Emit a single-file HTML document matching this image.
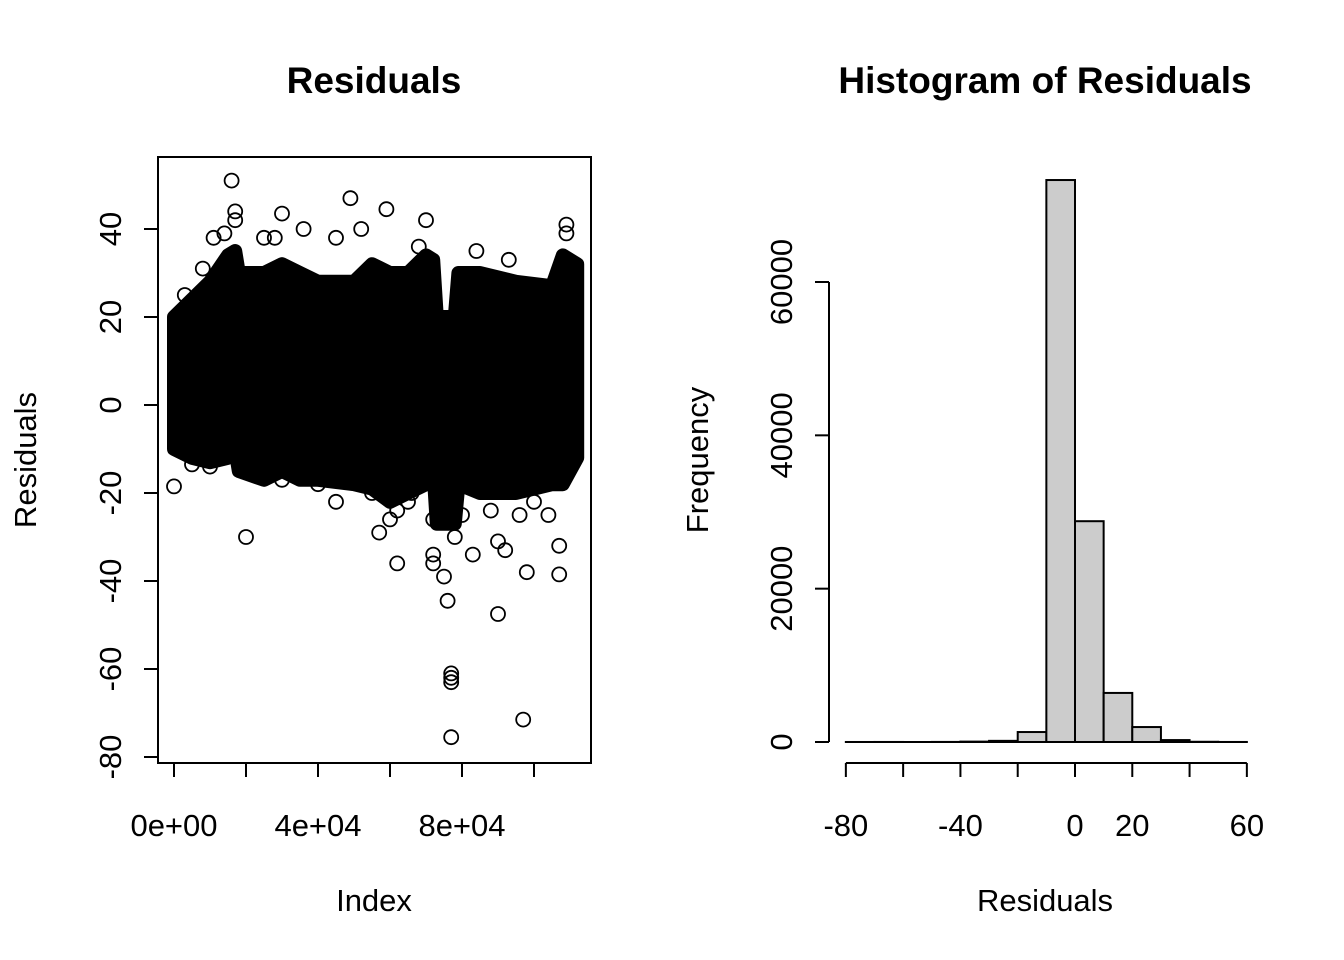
<!DOCTYPE html>
<html><head><meta charset="utf-8"><style>
html,body{margin:0;padding:0;background:#fff;}
svg{display:block;font-family:"Liberation Sans",Arial,sans-serif;}
</style></head><body>
<svg id="c" width="1344" height="960" viewBox="0 0 1344 960">
<text x="374" y="93" font-size="37" font-weight="bold" text-anchor="middle">Residuals</text>
<text x="1045" y="93" font-size="37" font-weight="bold" text-anchor="middle">Histogram of Residuals</text>
<g id="scatter"></g>
<g id="hist"></g>
<rect x="158" y="157" width="433" height="606" fill="none" stroke="#000" stroke-width="2"/>
<text x="374" y="911" font-size="31" text-anchor="middle">Index</text>
<text transform="translate(36,460) rotate(-90)" font-size="31" text-anchor="middle">Residuals</text>
<text x="1045" y="911" font-size="31" text-anchor="middle">Residuals</text>
<text transform="translate(708,460) rotate(-90)" font-size="31" text-anchor="middle">Frequency</text>
</svg>
<script>
// ---- scatter data (index in thousands, residual) ----
const bandIndex = [0,5,10,15,17,18,25,30,35,40,50,55,60,65,70,72,73,78,79,85,95,105,108,112];
const bandUpper = [20,24,28,34,35,30,30,32,30,28,28,32,30,30,34,33,20,20,30,30,28,27,34,32];
const bandLower = [-10,-12,-13,-12,-10,-15,-17,-15,-17,-17,-18,-19,-22,-20,-18,-14,-27,-27,-18,-20,-20,-18,-18,-12];
const outIndex = [16,17,17,49,59,70,30,109,109,20,0,62,57,72,72,76,77,77,77,77,90,97,98,107,107,75,83,90,92,72,60,62,45,96,104,10,5,30,80,66,36,45,52,28,84,93,25,68,11,14,3,8,22,40,55,65,88,100,110,78];
const outValue = [51,44,42,47,44.5,42,43.5,41,39,-30,-18.5,-36,-29,-36,-34,-44.5,-61,-62,-63,-75.5,-47.5,-71.5,-38,-32,-38.5,-39,-34,-31,-33,-26,-26,-24,-22,-25,-25,-14,-13.5,-17,-25,-20,40,38,40,38,35,33,38,36,38,39,25,31,-14,-18,-20,-22,-24,-22,-14,-30];
const sxTicks = [0,20,40,60,80,100];
const sxLabels = ["0e+00","","4e+04","","8e+04",""];
const syTicks = [-80,-60,-40,-20,0,20,40];
// ---- histogram data ----
const histBreaks = [-80,-70,-60,-50,-40,-30,-20,-10,0,10,20,30,40,50,60];
const histCounts = [2,5,0,10,50,150,1300,73300,28800,6400,1950,250,30,5];
const hxTicks = [-80,-60,-40,-20,0,20,40,60];
const hxLabels = ["-80","","-40","","0","20","","60"];
const hyTicks = [0,20000,40000,60000];

const NS="http://www.w3.org/2000/svg";
function mk(p,t,a){const e=document.createElementNS(NS,t);for(const k in a)e.setAttribute(k,a[k]);p.appendChild(e);return e;}
const sx=k=>174+3.6*k, sy=v=>405-4.4*v;
const S=document.getElementById('scatter');
let pts=[];
bandIndex.forEach((k,i)=>pts.push(sx(k)+','+sy(bandUpper[i])));
for(let i=bandIndex.length-1;i>=0;i--)pts.push(sx(bandIndex[i])+','+sy(bandLower[i]));
const band=mk(S,'polygon',{points:pts.join(' '),fill:'#000',stroke:'#000','stroke-width':14,'stroke-linejoin':'round'});


outIndex.forEach((k,i)=>{const c=mk(S,'circle',{cx:sx(k),cy:sy(outValue[i]),r:7,fill:'none',stroke:'#000','stroke-width':1.8});

});
mk(S,'line',{x1:sx(sxTicks[0]),x2:sx(sxTicks[sxTicks.length-1]),y1:763,y2:763,stroke:'#000','stroke-width':2});
sxTicks.forEach((t,i)=>{mk(S,'line',{x1:sx(t),x2:sx(t),y1:763,y2:777,stroke:'#000','stroke-width':2});
if(sxLabels[i]){const tx=mk(S,'text',{x:sx(t),y:836,'font-size':31,'text-anchor':'middle'});tx.textContent=sxLabels[i];

}});
mk(S,'line',{x1:158,x2:158,y1:sy(-80),y2:sy(40),stroke:'#000','stroke-width':2});
syTicks.forEach(t=>{mk(S,'line',{x1:144,x2:158,y1:sy(t),y2:sy(t),stroke:'#000','stroke-width':2});
const tx=mk(S,'text',{transform:`translate(121,${sy(t)}) rotate(-90)`,'font-size':31,'text-anchor':'middle'});tx.textContent=t;

});

const hx=v=>1075+v*(401/140), hy=c=>742-c*(460/60000);
const H=document.getElementById('hist');
mk(H,'line',{x1:hx(histBreaks[0]),x2:hx(histBreaks[histBreaks.length-1]),y1:742,y2:742,stroke:'#000','stroke-width':2});
histCounts.forEach((c,i)=>{const x0=hx(histBreaks[i]),x1=hx(histBreaks[i+1]);
const r=mk(H,'rect',{x:x0,y:hy(c),width:x1-x0,height:742-hy(c),fill:'#cccccc',stroke:'#000','stroke-width':2});

});
mk(H,'line',{x1:hx(-80),x2:hx(60),y1:763,y2:763,stroke:'#000','stroke-width':2});
hxTicks.forEach((t,i)=>{mk(H,'line',{x1:hx(t),x2:hx(t),y1:763,y2:777,stroke:'#000','stroke-width':2});
if(hxLabels[i]){const tx=mk(H,'text',{x:hx(t),y:836,'font-size':31,'text-anchor':'middle'});tx.textContent=hxLabels[i];

}});
mk(H,'line',{x1:829,x2:829,y1:hy(0),y2:hy(60000),stroke:'#000','stroke-width':2});
hyTicks.forEach(t=>{mk(H,'line',{x1:815,x2:829,y1:hy(t),y2:hy(t),stroke:'#000','stroke-width':2});
const tx=mk(H,'text',{transform:`translate(792,${hy(t)}) rotate(-90)`,'font-size':31,'text-anchor':'middle'});tx.textContent=t;

});
</script>
</body></html>
